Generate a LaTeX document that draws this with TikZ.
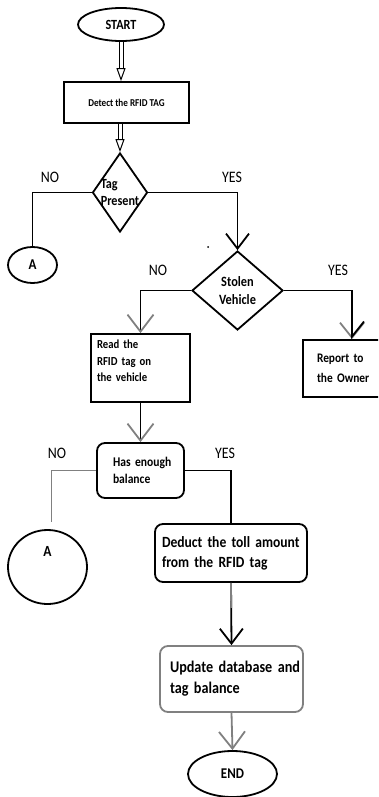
\documentclass[tikz,border=0pt]{standalone}
\usepackage{fontspec}
\setmainfont{Carlito}[FakeStretch=0.87]
\usetikzlibrary{arrows.meta,shapes.geometric,calc}

\begin{document}
\begin{tikzpicture}[x=1pt, y=-1pt, line width=1.8pt,
  every node/.style={inner sep=0pt},
  stepbox/.style={draw, rectangle, align=left},
  roundbox/.style={draw, rectangle, rounded corners=8pt, align=left},
  decision/.style={draw, diamond},
  terminal/.style={draw, ellipse},
  connector/.style={draw, ellipse},
  answer/.style={font=\fontsize{16}{18}\selectfont},
  dbl/.style={double, double distance=3pt, line width=1pt, -{Triangle[open,length=13pt,width=9pt]}},
  barb/.style={-{Straight Barb[length=15pt,width=23pt]}},
  graybarb/.style={-{Straight Barb[length=17pt,width=26pt,color=gray]}},
]
  \clip (0,0) rectangle (378,797);
  % terminals and steps
  \node[terminal, minimum width=86pt, minimum height=33pt, font=\fontsize{14}{16}\selectfont\bfseries] (start) at (121,24.5) {START};
  \node[stepbox, minimum width=125pt, minimum height=41pt, font=\fontsize{10.5}{13}\selectfont\bfseries] (detect) at (126.5,102.5) {Detect the RFID TAG};
  \node[decision, minimum width=55pt, minimum height=79pt,
        label={[align=left, font=\fontsize{14}{17}\selectfont\bfseries]center:Tag\\Present}] (tag) at (120,192.5) {};
  \node[connector, minimum width=49pt, minimum height=36pt, font=\fontsize{15}{17}\selectfont\bfseries] (a1) at (32.5,265) {A};
  \node[decision, minimum width=91pt, minimum height=79pt,
        label={[align=center, font=\fontsize{14.2}{18}\selectfont\bfseries]center:Stolen\\Vehicle}] (stolen) at (237.5,290.5) {};
  \node[stepbox, minimum width=99pt, minimum height=68pt,
        label={[yshift=7pt, text width=87pt, align=left, font=\fontsize{12.3}{16.5}\selectfont\bfseries]center:\mbox{Read the}\\\mbox{RFID tag on}\\\mbox{the vehicle}}] (read) at (140.5,368) {};
  \node[stepbox, minimum width=90pt, minimum height=57pt, text width=62pt, font=\fontsize{13.1}{20}\selectfont\bfseries] (report) at (348,368.5) {\mbox{Report to}\\\mbox{the Owner}};
  \node[roundbox, minimum width=87pt, minimum height=55pt, text width=55pt, font=\fontsize{13.3}{17}\selectfont\bfseries] (hasbal) at (140.5,470.5) {\mbox{Has enough}\\\mbox{balance}};
  \node[connector, minimum width=79pt, minimum height=74pt,
        label={[yshift=16pt, font=\fontsize{15.5}{17}\selectfont\bfseries]center:A}] (a2) at (47.5,567) {};
  \node[roundbox, minimum width=152pt, minimum height=58pt, text width=138pt, font=\fontsize{15.6}{20}\selectfont\bfseries] (deduct) at (231,553) {\mbox{Deduct the toll amount}\\\mbox{from the RFID tag}};
  \node[roundbox, draw=gray, minimum width=143pt, minimum height=66pt, text width=123pt, font=\fontsize{16.3}{21}\selectfont\bfseries] (update) at (231.5,679) {\mbox{Update database and}\\\mbox{tag balance}};
  \node[terminal, minimum width=89pt, minimum height=46pt, font=\fontsize{14.9}{17}\selectfont\bfseries] (end) at (232.5,774) {END};
  % yes / no
  \node[answer] (no1) at (50,177) {NO};
  \node[answer] (yes1) at (232,177) {YES};
  \node[answer] (no2) at (158,270) {NO};
  \node[answer] (yes2) at (338,270) {YES};
  \node[answer] (no3) at (57,453) {NO};
  \node[answer] (yes3) at (225,453) {YES};
  % flow
  \draw[dbl] (start.south) -- (start.south |- detect.north);
  \draw[dbl] (tag.north |- detect.south) -- (tag.north);
  \draw (tag.west) -| (a1.north);
  \draw[barb] (tag.east) -| (stolen.north);
  \fill (208,247) circle (1pt);
  \draw[graybarb] (stolen.west) -| (read.north);
  \draw[gray, -{Straight Barb[length=15pt,width=24pt,color=gray]}] (stolen.east) -| ([xshift=4pt]report.north);
  \draw[-{Straight Barb[length=15pt,width=24pt,left]}] (stolen.east) -| ([xshift=4pt]report.north);
  \draw[graybarb] (read.south) -- (hasbal.north);
  \draw[gray, line width=1.5pt] (hasbal.west) -| ([xshift=4pt,yshift=7pt]a2.north);
  \draw (hasbal.east) -| (deduct.north);
  \draw[barb] (deduct.south) -- (update.north);
  \draw[gray] (deduct.south) -- ($(deduct.south)!0.4!(update.north)$);
  \draw[gray, graybarb] (update.south) -- (end.north);
\end{tikzpicture}
\end{document}
